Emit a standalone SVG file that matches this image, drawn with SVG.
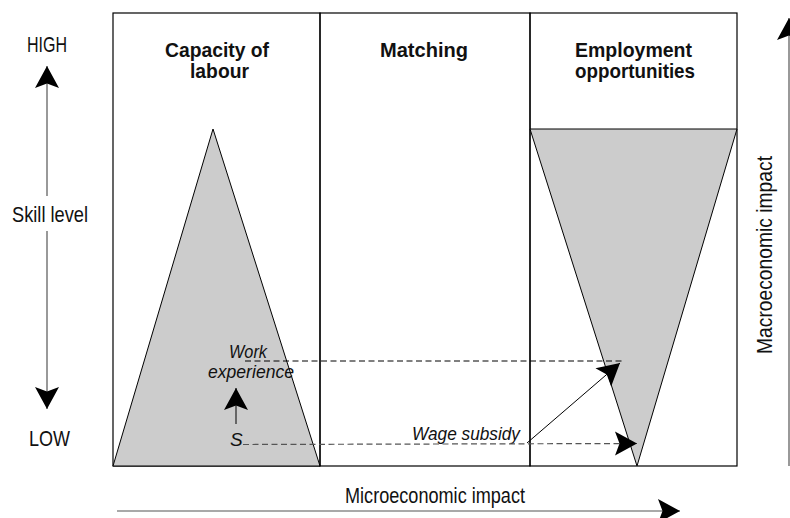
<svg xmlns="http://www.w3.org/2000/svg" width="790" height="518" viewBox="0 0 790 518">
  <style>
    .box { fill: none; stroke: #000; stroke-width: 1.2; }
    .shade { fill: #cccccc; stroke: #000; stroke-width: 1; }
    .axis { fill: none; stroke: #555; stroke-width: 1.2; }
    .link { fill: none; stroke: #000; stroke-width: 1; }
    .dash { fill: none; stroke: #000; stroke-width: 1; stroke-dasharray: 6 3.5; }
    .dash2 { fill: none; stroke: #555; stroke-width: 1.2; stroke-dasharray: 6 3.5; }
    text { font-family: "Liberation Sans", Arial, sans-serif; fill: #111; }
    .lbl { font-size: 22px; }
    .ttl { font-size: 21px; font-weight: bold; }
    .it { font-size: 19px; font-style: italic; }
  </style>
  <defs>
    <marker id="ah" markerUnits="userSpaceOnUse" viewBox="-24 -14 26 28" markerWidth="26" markerHeight="28" refX="0" refY="0" orient="auto">
      <path d="M0,0 L-22,-12 L-17.5,0 L-22,12 Z" fill="#000"/>
    </marker>
  </defs>

  <!-- skill level axis -->
  <g id="skill-axis">
    <line class="axis" x1="47" y1="196" x2="47" y2="66" marker-end="url(#ah)"/>
    <line class="axis" x1="47" y1="231" x2="47" y2="409" marker-end="url(#ah)"/>
    <text class="lbl" x="27" y="52" textLength="40" lengthAdjust="spacingAndGlyphs">HIGH</text>
    <text class="lbl" x="12" y="222" textLength="76" lengthAdjust="spacingAndGlyphs">Skill level</text>
    <text class="lbl" x="29" y="446" textLength="41" lengthAdjust="spacingAndGlyphs">LOW</text>
  </g>

  <!-- column: capacity of labour -->
  <g id="capacity">
    <rect class="box" x="113" y="13" width="207" height="453"/>
    <polygon class="shade" points="213,129 320,466 113,466"/>
    <text class="ttl" x="165" y="57" textLength="104" lengthAdjust="spacingAndGlyphs">Capacity of</text>
    <text class="ttl" x="190" y="78" textLength="59" lengthAdjust="spacingAndGlyphs">labour</text>
  </g>

  <!-- column: matching -->
  <g id="matching">
    <rect class="box" x="320" y="13" width="210" height="453"/>
    <text class="ttl" x="380" y="57" textLength="88" lengthAdjust="spacingAndGlyphs">Matching</text>
  </g>

  <!-- column: employment opportunities -->
  <g id="employment">
    <rect class="box" x="530" y="13" width="207" height="453"/>
    <polygon class="shade" points="530,129 737,129 637,466"/>
    <text class="ttl" x="575" y="57" textLength="117" lengthAdjust="spacingAndGlyphs">Employment</text>
    <text class="ttl" x="575" y="78" textLength="120" lengthAdjust="spacingAndGlyphs">opportunities</text>
  </g>

  <!-- policy labels -->
  <g id="work-experience">
    <text class="it" x="229" y="358" textLength="38" lengthAdjust="spacingAndGlyphs">Work</text>
    <text class="it" x="208" y="378" textLength="86" lengthAdjust="spacingAndGlyphs">experience</text>
  </g>
  <g id="start">
    <text class="it" x="230" y="446">S</text>
  </g>
  <g id="wage-subsidy">
    <text class="it" x="412" y="440" textLength="108" lengthAdjust="spacingAndGlyphs">Wage subsidy</text>
  </g>

  <!-- connectors -->
  <g id="connectors">
    <line class="link" x1="236" y1="424" x2="236" y2="388" marker-end="url(#ah)"/>
    <line class="dash" x1="245" y1="361" x2="625" y2="361"/>
    <line class="dash2" x1="243" y1="444.5" x2="637" y2="443.5" marker-end="url(#ah)"/>
    <line class="link" x1="527" y1="443" x2="620" y2="363" marker-end="url(#ah)"/>
  </g>

  <!-- impact axes -->
  <g id="micro-axis">
    <line class="axis" x1="117" y1="511" x2="680" y2="511" marker-end="url(#ah)"/>
    <text class="lbl" x="345" y="503" textLength="180" lengthAdjust="spacingAndGlyphs">Microeconomic impact</text>
  </g>
  <g id="macro-axis">
    <line class="axis" x1="789" y1="466" x2="789" y2="18" marker-end="url(#ah)"/>
    <text class="lbl" transform="translate(772,354) rotate(-90)" textLength="198" lengthAdjust="spacingAndGlyphs">Macroeconomic impact</text>
  </g>
</svg>
